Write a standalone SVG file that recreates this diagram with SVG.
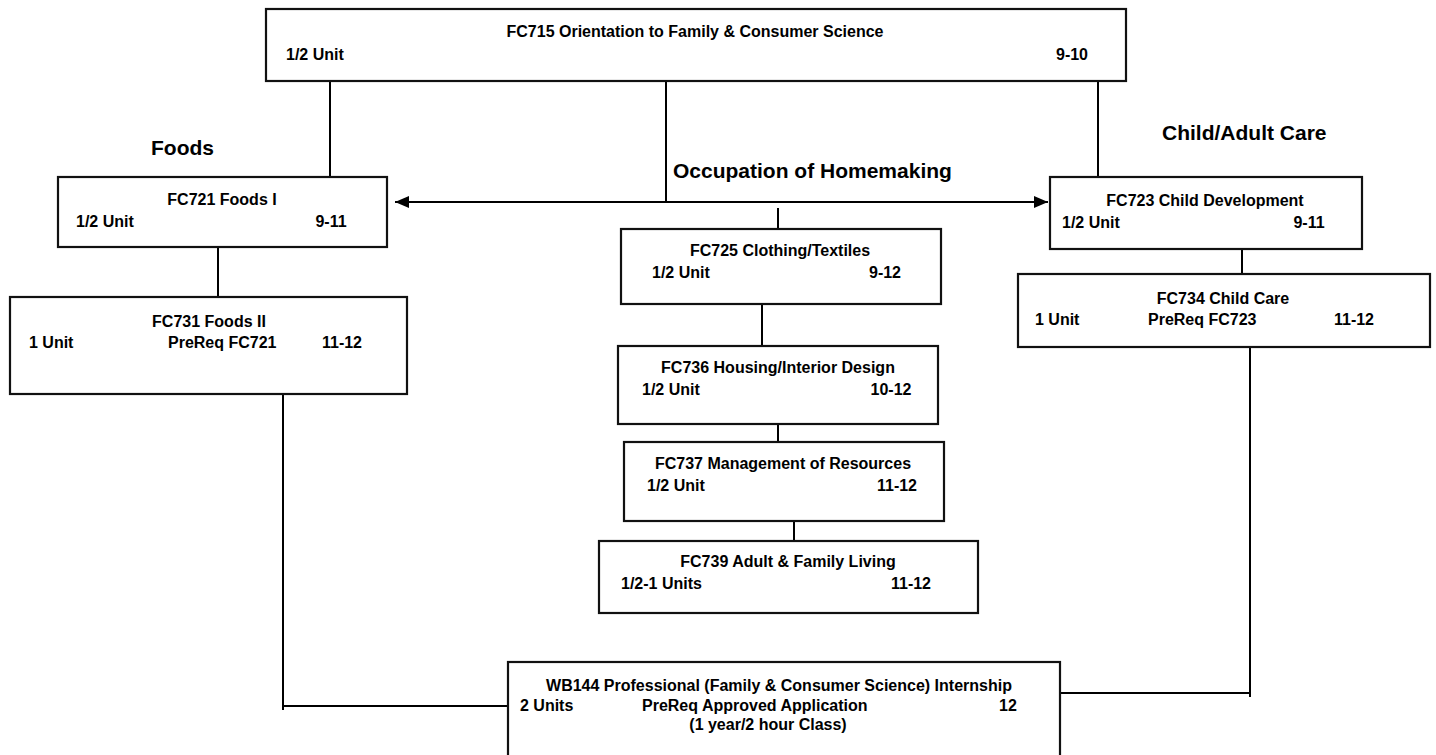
<svg xmlns="http://www.w3.org/2000/svg" width="1436" height="755" viewBox="0 0 1436 755">
<defs>
<style>
.box{fill:#fff;stroke:#111;stroke-width:2.2}
.ln{stroke:#000;stroke-width:2;fill:none}
text{font-family:"Comic Sans MS","Liberation Sans",Arial,sans-serif;font-weight:bold;font-size:16px;fill:#000}
.c{text-anchor:middle}
.lbl{font-size:21px}
</style>
<marker id="ah" viewBox="0 0 14 12" refX="14" refY="6" markerWidth="14" markerHeight="12" markerUnits="userSpaceOnUse" orient="auto-start-reverse">
<path d="M0,0 L14,6 L0,12 Z" fill="#000"/>
</marker>
</defs>
<rect width="1436" height="755" fill="#fff"/>
<g id="connectors">
<line class="ln" x1="330" y1="81" x2="330" y2="177"/>
<line class="ln" x1="666" y1="81" x2="666" y2="202"/>
<line class="ln" x1="1098" y1="81" x2="1098" y2="177"/>
<line class="ln" x1="395" y1="202" x2="1048" y2="202" marker-start="url(#ah)" marker-end="url(#ah)"/>
<line class="ln" x1="218" y1="247" x2="218" y2="297"/>
<polyline class="ln" points="283,394 283,710"/>
<line class="ln" x1="283" y1="706" x2="508" y2="706"/>
<line class="ln" x1="778" y1="208" x2="778" y2="229"/>
<line class="ln" x1="762" y1="304" x2="762" y2="346"/>
<line class="ln" x1="778" y1="424" x2="778" y2="442"/>
<line class="ln" x1="794" y1="521" x2="794" y2="541"/>
<line class="ln" x1="1242" y1="249" x2="1242" y2="274"/>
<polyline class="ln" points="1250,347 1250,697"/>
<line class="ln" x1="1060" y1="693" x2="1250" y2="693"/>
</g>
<g id="labels">
<text class="lbl" x="151" y="155">Foods</text>
<text class="lbl" x="673" y="178">Occupation of Homemaking</text>
<text class="lbl" x="1162" y="140">Child/Adult Care</text>
</g>
<g id="fc715">
<rect class="box" x="266" y="9" width="860" height="72"/>
<text class="c" x="695" y="37">FC715 Orientation to Family &amp; Consumer Science</text>
<text x="286" y="60">1/2 Unit</text>
<text class="c" x="1072" y="60">9-10</text>
</g>
<g id="fc721">
<rect class="box" x="58" y="177" width="329" height="70"/>
<text class="c" x="222" y="205">FC721 Foods I</text>
<text x="76" y="227">1/2 Unit</text>
<text class="c" x="331" y="227">9-11</text>
</g>
<g id="fc731">
<rect class="box" x="10" y="297" width="397" height="97"/>
<text class="c" x="209" y="327">FC731 Foods II</text>
<text x="29" y="348">1 Unit</text>
<text x="168" y="348">PreReq FC721</text>
<text class="c" x="342" y="348">11-12</text>
</g>
<g id="fc723">
<rect class="box" x="1050" y="177" width="312" height="72"/>
<text class="c" x="1205" y="206">FC723 Child Development</text>
<text x="1062" y="228">1/2 Unit</text>
<text class="c" x="1309" y="228">9-11</text>
</g>
<g id="fc734">
<rect class="box" x="1018" y="274" width="412" height="73"/>
<text class="c" x="1223" y="304">FC734 Child Care</text>
<text x="1035" y="325">1 Unit</text>
<text x="1148" y="325">PreReq FC723</text>
<text class="c" x="1354" y="325">11-12</text>
</g>
<g id="fc725">
<rect class="box" x="621" y="229" width="320" height="75"/>
<text class="c" x="780" y="256">FC725 Clothing/Textiles</text>
<text x="652" y="278">1/2 Unit</text>
<text class="c" x="885" y="278">9-12</text>
</g>
<g id="fc736">
<rect class="box" x="618" y="346" width="320" height="78"/>
<text class="c" x="778" y="373">FC736 Housing/Interior Design</text>
<text x="642" y="395">1/2 Unit</text>
<text class="c" x="891" y="395">10-12</text>
</g>
<g id="fc737">
<rect class="box" x="624" y="442" width="320" height="79"/>
<text class="c" x="783" y="469">FC737 Management of Resources</text>
<text x="647" y="491">1/2 Unit</text>
<text class="c" x="897" y="491">11-12</text>
</g>
<g id="fc739">
<rect class="box" x="599" y="541" width="379" height="72"/>
<text class="c" x="788" y="567">FC739 Adult &amp; Family Living</text>
<text x="621" y="589">1/2-1 Units</text>
<text class="c" x="911" y="589">11-12</text>
</g>
<g id="wb144">
<rect class="box" x="508" y="662" width="552" height="110"/>
<text class="c" x="779" y="691">WB144 Professional (Family &amp; Consumer Science) Internship</text>
<text x="520" y="711">2 Units</text>
<text x="642" y="711">PreReq Approved Application</text>
<text class="c" x="1008" y="711">12</text>
<text class="c" x="768" y="730">(1 year/2 hour Class)</text>
</g>
</svg>
